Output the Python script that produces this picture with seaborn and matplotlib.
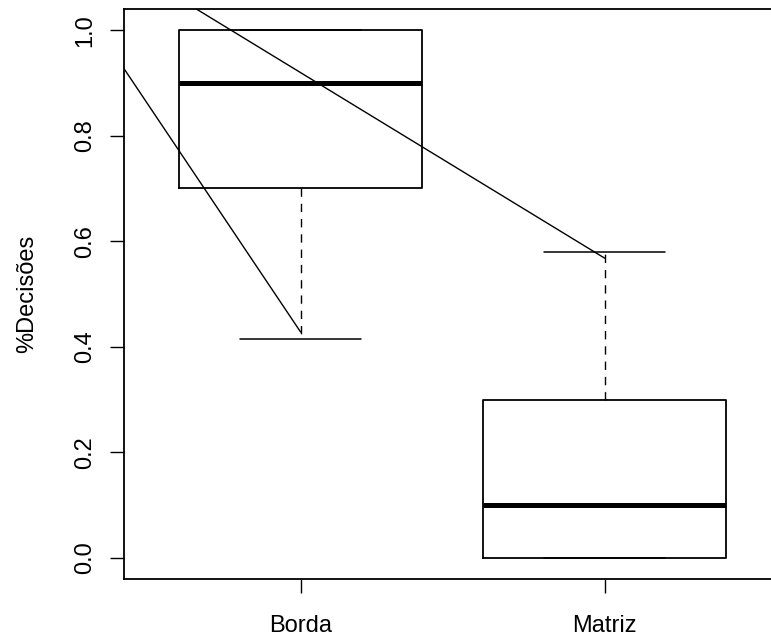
import numpy as np
import pandas as pd
import matplotlib
matplotlib.use("Agg")
import matplotlib.pyplot as plt
import seaborn as sns

# ---- data ----
categories = ["Borda", "Matriz"]
borda_values = [0.415, 0.70, 0.90, 1.00, 1.00]
matriz_values = [0.00, 0.00, 0.10, 0.30, 0.58]
y_ticks = [0.0, 0.2, 0.4, 0.6, 0.8, 1.0]
y_tick_labels = ["0.0", "0.2", "0.4", "0.6", "0.8", "1.0"]
y_label = "%Decisões"

# two straight lines over the boxes (x in group-number units: Borda=1, Matriz=2)
line_a_x = [0, 1]
line_a_y = [1.287, 0.428]
line_b_x = [0, 2]
line_b_y = [1.271, 0.568]

df = pd.DataFrame({
    "group": [categories[0]] * len(borda_values) + [categories[1]] * len(matriz_values),
    "value": borda_values + matriz_values,
})

sns.set_style("ticks")
plt.rcParams["font.family"] = ["Liberation Sans", "DejaVu Sans"]

fig = plt.figure(figsize=(7.71, 6.41), dpi=100)
ax = fig.add_axes([0.1612, 0.0967, 0.8517, 0.8892])

sns.boxplot(
    data=df, x="group", y="value", order=categories, ax=ax,
    fill=False, color="black", width=0.8, whis=1.5, showfliers=False,
    capwidths=0.4,
    boxprops=dict(color="black", linewidth=1.3),
    medianprops=dict(color="black", linewidth=3.6),
    whiskerprops=dict(color="black", linewidth=1.0, linestyle=(0, (6, 5))),
    capprops=dict(color="black", linewidth=1.1),
)

# group numbers 1,2 map to seaborn category positions 0,1
ax.plot(np.array(line_a_x) - 1, line_a_y, color="black", linewidth=1.0)
ax.plot(np.array(line_b_x) - 1, line_b_y, color="black", linewidth=1.0)

ax.set_xlim(-0.58, 1.58)
ax.set_ylim(-0.04, 1.04)
ax.set_yticks(y_ticks, y_tick_labels, rotation=90, va="center")
ax.set_xlabel("")
ax.set_ylabel(y_label, fontsize=17, color="black")
ax.yaxis.set_label_coords(-0.131, 0.5)

for s in ["left", "bottom", "top", "right"]:
    ax.spines[s].set_visible(True)
    ax.spines[s].set_color("black")
    ax.spines[s].set_linewidth(1.3)

ax.tick_params(axis="both", direction="out", length=10, width=1.0,
               color="black", labelsize=17, labelcolor="black")
ax.tick_params(axis="x", pad=16)
ax.tick_params(axis="y", pad=10)

fig.savefig("out.png", dpi=100)
